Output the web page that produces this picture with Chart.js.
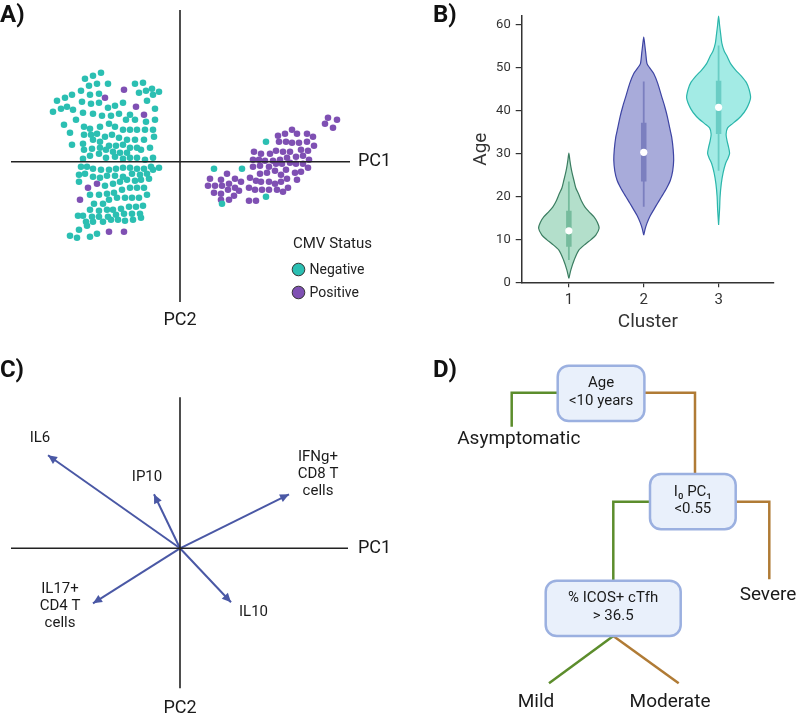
<!DOCTYPE html>
<html lang="en">
<head>
  <meta charset="UTF-8">
  <title>CMV status, age clusters, PCA loadings and decision tree</title>
  <style>
    body { margin: 0; background: #fff; }
    #wrap { position: relative; width: 796px; height: 716px; }
    canvas { position: absolute; }
  </style>
</head>
<body>
<div id="wrap">
  <canvas id="chartA" width="398" height="340" style="left:0;top:0"></canvas>
  <canvas id="chartB" width="396" height="340" style="left:400px;top:0"></canvas>
  <canvas id="chartC" width="398" height="376" style="left:0;top:340px"></canvas>
  <canvas id="chartD" width="396" height="376" style="left:400px;top:340px"></canvas>
</div>
<script src="https://cdn.jsdelivr.net/npm/chart.js"></script>
<script>
// ---- A) PCA scores, [PC1, PC2] ----
var cmvNegative = [
  [-7.9,8.9],[-8.7,8.6],[-9.5,8.3],[-8.3,7.8],[-9.1,7.6],[-7.2,7.8],[-9.9,7.1],[-9.0,6.7],[-8.1,6.8],
  [-4.5,7.8],[-3.7,7.9],[-4.1,6.9],[-3.4,7.1],[-2.8,7.3],[-2.1,7.0],[-2.7,6.7],[-3.3,6.1],[-2.5,5.3],
  [-5.0,4.7],[-5.7,5.9],[-6.5,5.6],[-7.2,5.4],[-8.1,5.9],[-8.9,5.8],[-9.8,6.0],[-10.7,5.2],[-11.3,5.5],
  [-11.9,5.3],[-12.7,5.0],[-12.3,6.1],[-11.5,6.4],[-10.8,6.7],
  [-9.7,4.9],[-8.7,4.8],[-7.8,4.6],[-6.9,4.6],[-6.1,4.8],[-5.4,4.2],[-4.5,4.2],[-3.4,4.0],[-2.5,4.2],
  [-2.7,3.2],[-2.6,2.5],[-3.5,3.2],[-4.3,3.2],[-5.0,3.2],[-5.7,3.2],[-6.5,3.5],[-7.1,3.8],[-8.0,3.5],
  [-9.0,3.3],[-9.6,3.5],[-10.4,4.2],[-11.6,3.7],[-11.0,2.9],[-10.8,1.7],
  [-9.6,2.7],[-8.9,2.7],[-8.3,2.8],[-7.5,2.5],[-6.8,2.7],[-6.1,2.4],[-5.3,2.2],[-4.5,2.2],[-3.6,2.2],
  [-4.3,1.4],[-5.0,1.4],[-5.7,1.7],[-6.4,1.6],[-7.1,1.6],[-8.0,2.0],[-8.7,2.2],[-9.7,1.8],[-9.6,1.2],
  [-8.8,1.3],[-8.0,1.4],[-7.4,1.2],[-6.7,1.0],[-6.0,0.9],[-5.3,0.9],[-3.9,1.2],[-3.0,1.4],
  [-9.0,0.6],[-8.1,0.8],[-7.4,0.4],[-6.5,0.5],[-5.7,0.3],[-5.0,0.4],[-4.3,0.4],[-3.5,0.2],[-2.7,0.4],[-9.7,0.3],
  [-2.1,-0.6],[-2.9,-0.5],[-3.6,-0.7],[-4.3,-0.7],[-5.0,-0.6],[-5.7,-0.6],[-6.4,-0.7],[-7.1,-0.8],
  [-7.9,-0.8],[-8.7,-0.7],[-9.3,-0.5],[-9.9,-0.5],
  [-10.1,-1.3],[-9.5,-1.2],[-8.7,-1.5],[-8.0,-1.6],[-7.3,-1.4],[-6.5,-1.4],[-5.7,-1.5],[-4.8,-1.2],
  [-4.0,-1.3],[-3.3,-1.2],[-2.7,-0.8],
  [-3.1,-1.7],[-3.9,-1.8],[-4.5,-1.9],[-5.3,-1.8],[-6.0,-2.0],[-6.7,-2.2],[-7.5,-2.4],[-10.1,-2.0],
  [-9.0,-3.3],[-8.1,-3.3],[-7.3,-3.2],[-6.6,-3.1],[-5.8,-2.8],[-5.0,-2.6],[-4.3,-2.6],[-3.6,-2.6],
  [-3.3,-3.3],[-4.1,-3.6],[-4.8,-3.6],[-5.5,-3.6],[-6.3,-3.6],[-7.1,-3.8],[-7.7,-4.2],[-8.6,-4.2],
  [-9.0,-4.8],[-8.1,-4.9],[-7.3,-4.8],[-6.7,-4.8],[-5.9,-4.7],[-5.1,-4.5],[-4.4,-4.5],[-3.7,-4.4],
  [-4.0,-5.2],[-4.8,-5.2],[-5.6,-5.2],[-6.4,-5.3],[-7.2,-5.5],[-8.1,-5.5],[-8.8,-5.5],[-9.7,-5.4],[-10.2,-5.4],
  [-9.4,-6.0],[-8.7,-6.0],[-7.7,-6.0],[-6.9,-5.8],[-6.2,-5.8],[-5.5,-5.9],[-4.7,-5.8],[-3.9,-5.6],
  [-9.3,-6.4],[-10.1,-6.8],[-11.0,-7.4],[-10.3,-7.6],[-9.0,-7.5],[-8.3,-7.2],
  [8.6,2.0],[3.4,-0.7],[6.2,-0.7],[8.6,-3.5],[4.2,-4.2]
];
var cmvPositive = [
  [-7.5,6.4],[-5.6,7.2],[-4.4,5.5],[-3.6,4.7],[-8.3,-2.2],[-9.2,-2.6],[-10.0,-3.8],[-7.1,-7.0],[-5.6,-7.0],
  [14.8,4.4],[15.7,4.2],[14.5,3.8],[15.3,3.4],[11.2,3.2],[10.5,2.8],[9.8,2.6],[11.7,2.8],[12.7,2.8],
  [13.3,2.5],[12.7,2.0],[13.4,1.6],[11.9,1.9],[11.2,1.9],[10.6,2.0],[9.9,2.0],[12.1,1.2],[12.8,1.1],
  [11.0,1.0],[10.3,1.0],[9.6,1.1],[9.0,0.8],[8.1,0.8],[7.4,1.0],[11.6,0.5],[12.3,0.6],[10.7,0.4],
  [10.0,0.2],[9.3,0.1],[8.5,0.1],[7.9,0.2],[7.3,0.2],[12.9,0.2],[12.3,-0.2],[11.6,-0.2],[11.0,-0.1],
  [10.2,-0.2],[9.6,-0.2],[8.9,-0.5],[8.0,-0.4],[7.3,-0.5],[12.8,-0.6],[12.1,-1.0],[11.5,-1.1],[10.6,-0.8],
  [10.1,-1.3],[9.5,-0.9],[8.7,-1.1],[8.0,-1.2],[4.7,-1.2],[4.1,-1.8],[3.0,-1.7],[5.5,-1.7],[11.7,-1.8],
  [10.7,-1.7],[10.1,-2.0],[9.5,-2.2],[8.9,-2.0],[8.1,-2.0],[7.6,-1.9],[7.0,-1.6],[6.1,-2.0],[5.5,-2.6],
  [4.9,-2.2],[4.2,-2.4],[3.5,-2.4],[2.8,-2.4],[3.4,-3.1],[4.1,-3.2],[4.8,-2.8],[5.9,-2.9],[5.4,-3.4],
  [6.9,-2.6],[7.5,-2.8],[8.2,-2.8],[8.9,-2.8],[9.7,-2.8],[10.8,-2.6],[10.3,-3.0],[4.9,-3.8],[4.1,-3.8],
  [6.9,-3.9],[7.6,-3.9]
];

// ---- B) age by cluster (violin outline: ages and half widths in cluster units) ----
var clusters = [1, 2, 3];
var ageTicks = [0, 10, 20, 30, 40, 50, 60];
var violinAges = [
  [0.9, 2.9, 5.2, 7.5, 9, 9.9, 11, 12.6, 14, 15.3, 16.5, 17.6, 19, 20.7, 22, 23.8, 25.5, 26.9, 28.5, 30.1],
  [11.0, 12.5, 13.8, 15.5, 16.9, 18.5, 20, 22, 23.8, 26, 28.5, 31, 33.9, 36, 38.6, 41, 43.3, 46.4, 48.7, 50, 51, 53.4, 55.5, 57.2],
  [13.4, 17, 20, 23, 25.5, 27.7, 29, 30.1, 31.5, 33, 34.5, 36, 37, 38.6, 40.5, 43, 45, 46.5, 48, 49.5, 51, 52.6, 54, 55.7, 58, 60, 62.1]
];
var violinHalfWidth = [
  [0, 0.027, 0.071, 0.133, 0.227, 0.293, 0.36, 0.404, 0.38, 0.333, 0.267, 0.213, 0.167, 0.127, 0.093, 0.067, 0.043, 0.027, 0.013, 0],
  [0, 0.02, 0.044, 0.087, 0.133, 0.187, 0.24, 0.307, 0.356, 0.387, 0.4, 0.393, 0.373, 0.347, 0.316, 0.28, 0.24, 0.187, 0.133, 0.08, 0.044, 0.027, 0.013, 0],
  [0, 0.013, 0.02, 0.036, 0.06, 0.093, 0.127, 0.147, 0.133, 0.113, 0.1, 0.12, 0.187, 0.293, 0.373, 0.427, 0.407, 0.373, 0.307, 0.227, 0.16, 0.116, 0.073, 0.044, 0.027, 0.013, 0]
];
var ageQ1 = [8.3, 23.5, 34.6];
var ageQ3 = [16.7, 37.2, 47.0];
var ageMedian = [12.0, 30.3, 40.8];
var whiskerLow = [5.2, 17.6, 26.0];
var whiskerHigh = [23.5, 46.8, 55.2];

// ---- C) loadings ----
var loadingLabels = [['IL6'], ['IP10'], ['IFNg+', 'CD8 T', 'cells'], ['IL17+', 'CD4 T', 'cells'], ['IL10']];
var loadingPC1 = [-13.2, -2.6, 10.9, -8.7, 5.1];
var loadingPC2 = [9.3, 5.4, 5.4, -5.5, -5.4];

// ---- D) decision tree ----
var treeNodes = [['Age', '<10 years'], ['I\u2080 PC\u2081', '<0.55'], ['% ICOS+ cTfh', '> 36.5']];
var treeLeaves = ['Asymptomatic', 'Severe', 'Mild', 'Moderate'];

var TEAL = '#2bbfb2', PURPLE = '#7f50b3';
var violinFill = ['#b3dfcb', '#a8abda', '#a3ebe5'];
var violinLine = ['#3b7d61', '#3d44a3', '#2bb6ab'];
var violinBox = ['#76bb9d', '#7b7fbf', '#6acdc5'];
var ARROW = '#4a58a5', GREEN = '#5c8d2c', BROWN = '#b07b35';

Chart.defaults.font.family = 'Roboto';
Chart.defaults.color = '#333';
Chart.defaults.animation = false;
Chart.defaults.events = [];
Chart.defaults.plugins.legend.display = false;
Chart.defaults.plugins.tooltip.enabled = false;

// panel letter
var panelLetter = {
  id: 'panelLetter',
  afterDraw: function(chart, args, opts) {
    if (!opts.text) return;
    var c = chart.ctx;
    c.save();
    c.font = 'bold 24px Roboto';
    c.fillStyle = '#111';
    c.textAlign = 'left';
    c.textBaseline = 'alphabetic';
    c.fillText(opts.text, opts.x, opts.y);
    c.restore();
  }
};
Chart.register(panelLetter);

// axes crossing at 0 with PC labels
var crossAxes = {
  id: 'crossAxes',
  afterDatasetsDraw: function(chart, args, opts) {
    var c = chart.ctx, a = chart.chartArea;
    var x0 = chart.scales.x.getPixelForValue(0), y0 = chart.scales.y.getPixelForValue(0);
    c.save();
    c.strokeStyle = '#222';
    c.lineWidth = 1.6;
    c.beginPath();
    c.moveTo(a.left, y0); c.lineTo(a.right, y0);
    c.moveTo(x0, a.top); c.lineTo(x0, a.bottom);
    c.stroke();
    c.fillStyle = '#1a1a1a';
    c.font = '18px Roboto';
    c.textBaseline = 'middle';
    c.textAlign = 'left';
    c.fillText('PC1', a.right + opts.xGap, y0);
    c.textAlign = 'center';
    c.fillText('PC2', x0, a.bottom + opts.yGap);
    c.restore();
  }
};

var cmvLegend = {
  id: 'cmvLegend',
  afterDraw: function(chart) {
    var c = chart.ctx;
    c.save();
    c.textBaseline = 'middle';
    c.textAlign = 'left';
    c.fillStyle = '#222';
    c.font = '15px Roboto';
    c.fillText('CMV Status', 293, 244.5);
    chart.data.datasets.forEach(function(ds, i) {
      var y = 269.5 + i * 23;
      c.beginPath();
      c.arc(298.5, y, 6.3, 0, Math.PI * 2);
      c.fillStyle = ds.backgroundColor;
      c.fill();
      c.lineWidth = 1;
      c.strokeStyle = '#333';
      c.stroke();
      c.fillStyle = '#222';
      c.font = '14px Roboto';
      c.fillText(ds.label, 309.5, y + 0.5);
    });
    c.restore();
  }
};

function toPts(arr) {
  return arr.map(function(p) { return {x: p[0], y: p[1]}; });
}

// A
new Chart(document.getElementById('chartA'), {
  type: 'scatter',
  data: {
    datasets: [
      {label: 'Negative', data: toPts(cmvNegative), backgroundColor: TEAL, borderWidth: 0, pointRadius: 3.3, clip: false},
      {label: 'Positive', data: toPts(cmvPositive), backgroundColor: PURPLE, borderWidth: 0, pointRadius: 3.3, clip: false}
    ]
  },
  options: {
    responsive: false,
    layout: {padding: {left: 11, right: 48, top: 10, bottom: 38}},
    scales: {
      x: {type: 'linear', min: -16.9, max: 17.0, display: false},
      y: {type: 'linear', min: -14.03, max: 15.17, display: false}
    },
    plugins: {
      panelLetter: {text: 'A)', x: 0, y: 21.5},
      crossAxes: {xGap: 8, yGap: 18.5}
    }
  },
  plugins: [crossAxes, cmvLegend]
});

// B
var bSets = [];
clusters.forEach(function(c, i) {
  var ages = violinAges[i], w = violinHalfWidth[i];
  var outline = ages.map(function(a, k) { return {x: c + w[k], y: a}; });
  for (var k = ages.length - 2; k >= 0; k--) outline.push({x: c - w[k], y: ages[k]});
  bSets.push({data: outline, showLine: true, fill: 'shape', backgroundColor: violinFill[i],
    borderColor: violinLine[i], borderWidth: 1.2, pointRadius: 0, tension: 0.25, clip: false, order: 3});
  bSets.push({data: [{x: c, y: whiskerLow[i]}, {x: c, y: whiskerHigh[i]}], showLine: true,
    borderColor: violinBox[i], borderWidth: 1.8, pointRadius: 0, order: 2});
  bSets.push({data: [{x: c, y: ageQ1[i]}, {x: c, y: ageQ3[i]}], showLine: true,
    borderColor: violinBox[i], borderWidth: 5.5, borderCapStyle: 'butt', pointRadius: 0, order: 1});
});
bSets.push({data: clusters.map(function(c, i) { return {x: c, y: ageMedian[i]}; }),
  backgroundColor: '#fff', borderWidth: 0, pointRadius: 3.6, order: 0});

new Chart(document.getElementById('chartB'), {
  type: 'scatter',
  data: {datasets: bSets},
  options: {
    responsive: false,
    layout: {padding: {left: 70, right: 22, top: 16, bottom: 0}},
    scales: {
      x: {
        type: 'linear', min: 0.37, max: 3.74,
        afterBuildTicks: function(s) { s.ticks = clusters.map(function(v) { return {value: v}; }); },
        afterFit: function(s) { s.height = 57.7; },
        border: {display: true, color: '#333', width: 1.5},
        grid: {display: true, drawOnChartArea: false, drawTicks: true, tickLength: 5, color: '#333', lineWidth: 1.2},
        ticks: {font: {size: 15}, color: '#333', padding: 4},
        title: {display: true, text: 'Cluster', font: {size: 19}, color: '#333', padding: {top: 0, bottom: 6.6}}
      },
      y: {
        type: 'linear', min: 0, max: 62.1,
        afterBuildTicks: function(s) { s.ticks = ageTicks.map(function(v) { return {value: v}; }); },
        afterFit: function(s) { s.width = 51.7; },
        border: {display: true, color: '#333', width: 1.5},
        grid: {display: true, drawOnChartArea: false, drawTicks: true, tickLength: 6, color: '#333', lineWidth: 1.2},
        ticks: {font: {size: 13}, color: '#333', padding: 5},
        title: {display: true, text: 'Age', font: {size: 19}, color: '#333', padding: {top: 0, bottom: 0}}
      }
    },
    plugins: {
      panelLetter: {text: 'B)', x: 33, y: 21.5}
    }
  }
});

// C
var arrowHeads = {
  id: 'arrowHeads',
  afterDatasetsDraw: function(chart) {
    var c = chart.ctx;
    c.save();
    chart.data.datasets.forEach(function(ds, i) {
      var pts = chart.getDatasetMeta(i).data;
      var p0 = pts[0], p1 = pts[1];
      var ang = Math.atan2(p1.y - p0.y, p1.x - p0.x);
      var len = 9, half = 4.2;
      c.beginPath();
      c.moveTo(p1.x, p1.y);
      c.lineTo(p1.x - len * Math.cos(ang) + half * Math.sin(ang), p1.y - len * Math.sin(ang) - half * Math.cos(ang));
      c.lineTo(p1.x - len * Math.cos(ang) - half * Math.sin(ang), p1.y - len * Math.sin(ang) + half * Math.cos(ang));
      c.closePath();
      c.fillStyle = ARROW;
      c.fill();
    });
    // labels
    var labelAt = [[-14.0, 11.0], [-3.3, 7.15], [13.8, 7.4], [-12.0, -5.8], [7.35, -6.4]];
    c.fillStyle = '#1a1a1a';
    c.font = '15px Roboto';
    c.textAlign = 'center';
    c.textBaseline = 'middle';
    loadingLabels.forEach(function(lines, i) {
      var cx = chart.scales.x.getPixelForValue(labelAt[i][0]);
      var cy = chart.scales.y.getPixelForValue(labelAt[i][1]);
      lines.forEach(function(s, k) {
        c.fillText(s, cx, cy + (k - (lines.length - 1) / 2) * 17.3);
      });
    });
    c.restore();
  }
};

new Chart(document.getElementById('chartC'), {
  type: 'scatter',
  data: {
    datasets: loadingPC1.map(function(v, i) {
      return {data: [{x: 0, y: 0}, {x: v, y: loadingPC2[i]}], showLine: true, borderColor: ARROW,
        borderWidth: 2, pointRadius: 0, clip: false};
    })
  },
  options: {
    responsive: false,
    layout: {padding: {left: 11, right: 50, top: 57.3, bottom: 27.7}},
    scales: {
      x: {type: 'linear', min: -16.9, max: 16.8, display: false},
      y: {type: 'linear', min: -14.0, max: 15.1, display: false}
    },
    plugins: {
      panelLetter: {text: 'C)', x: 0, y: 37},
      crossAxes: {xGap: 10, yGap: 19.7}
    }
  },
  plugins: [arrowHeads, crossAxes]
});

// D  (layout in panel pixels)
var nodeBox = [[157.7, 25.7, 86.7, 55.3], [250, 134, 85.7, 55.3], [145.7, 240.7, 135, 55.3]];
var leafAt = [[118.8, 99], [368, 255.5], [136, 362], [270, 362]];
var connectors = [
  {color: GREEN, pts: [[157.7, 52.7], [111.7, 52.7], [111.7, 86.7]]},
  {color: BROWN, pts: [[244.3, 52.7], [295, 52.7], [295, 134]]},
  {color: GREEN, pts: [[250, 161.7], [213.3, 161.7], [213.3, 240.7]]},
  {color: BROWN, pts: [[335.7, 161.7], [369.3, 161.7], [369.3, 239.3]]},
  {color: GREEN, pts: [[213.3, 296], [149, 343.3]]},
  {color: BROWN, pts: [[213.3, 296], [278.7, 343.3]]}
];

var treeBoxes = {
  id: 'treeBoxes',
  afterDatasetsDraw: function(chart) {
    var c = chart.ctx, sx = chart.scales.x, sy = chart.scales.y;
    c.save();
    c.textAlign = 'center';
    c.textBaseline = 'middle';
    treeNodes.forEach(function(lines, i) {
      var b = nodeBox[i];
      var l = sx.getPixelForValue(b[0]), t = sy.getPixelForValue(b[1]);
      var w = sx.getPixelForValue(b[0] + b[2]) - l, h = sy.getPixelForValue(b[1] + b[3]) - t;
      c.beginPath();
      c.roundRect(l, t, w, h, 11);
      c.fillStyle = '#e9f0fb';
      c.fill();
      c.lineWidth = 2.5;
      c.strokeStyle = '#9bb0e0';
      c.stroke();
      c.fillStyle = '#1a1a1a';
      c.font = '15px Roboto';
      lines.forEach(function(s, k) {
        c.fillText(s, l + w / 2, t + h / 2 - 1 + (k - (lines.length - 1) / 2) * 17.7);
      });
    });
    c.font = '19px Roboto';
    treeLeaves.forEach(function(s, i) {
      c.fillText(s, sx.getPixelForValue(leafAt[i][0]), sy.getPixelForValue(leafAt[i][1]));
    });
    c.restore();
  }
};

new Chart(document.getElementById('chartD'), {
  type: 'scatter',
  data: {
    datasets: connectors.map(function(e) {
      return {data: toPts(e.pts), showLine: true, borderColor: e.color, borderWidth: 2.5,
        borderCapStyle: 'butt', borderJoinStyle: 'miter', pointRadius: 0, clip: false};
    })
  },
  options: {
    responsive: false,
    layout: {padding: 0},
    scales: {
      x: {type: 'linear', min: 0, max: 396, display: false},
      y: {type: 'linear', min: 0, max: 376, reverse: true, display: false}
    },
    plugins: {
      panelLetter: {text: 'D)', x: 33, y: 37}
    }
  },
  plugins: [treeBoxes]
});
</script>
</body>
</html>
